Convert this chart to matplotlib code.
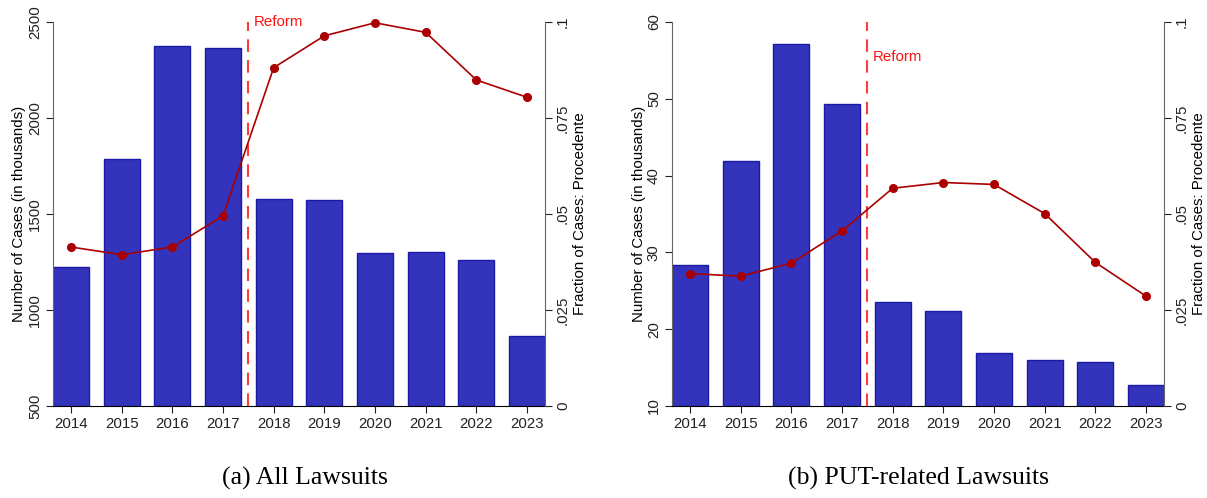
import matplotlib
matplotlib.use("Agg")
import matplotlib.pyplot as plt

years = [2014, 2015, 2016, 2017, 2018, 2019, 2020, 2021, 2022, 2023]

# Panel (a): all lawsuits
all_cases = [1222, 1786, 2375, 2365, 1577, 1573, 1298, 1302, 1262, 866]
all_frac = [0.0414, 0.0394, 0.0414, 0.0495, 0.0881, 0.0964, 0.0998, 0.0973, 0.0849, 0.0804]

# Panel (b): PUT-related lawsuits
put_cases = [28.36, 41.94, 57.1, 49.36, 23.54, 22.37, 16.93, 15.96, 15.70, 12.79]
put_frac = [0.0345, 0.0338, 0.0372, 0.0456, 0.0567, 0.0582, 0.0577, 0.0501, 0.0374, 0.0286]

left_ticks_a = [500, 1000, 1500, 2000, 2500]
left_ticks_b = [10, 20, 30, 40, 50, 60]
right_ticks = [0, 0.025, 0.05, 0.075, 0.1]
right_labels = ["0", ".025", ".05", ".075", ".1"]

reform_year = 2017.5
captions = ["(a) All Lawsuits", "(b) PUT-related Lawsuits"]

plt.rcParams["font.family"] = ["Liberation Sans", "DejaVu Sans"]

BAR_FACE = "#3333bb"
BAR_EDGE = "#1a1aa6"
LINE_COL = "#aa0000"
REFORM_COL = "#ff3a3a"
FS = 10.8

fig = plt.figure(figsize=(12.07, 4.98), dpi=100)


def panel(rect, cases, frac, lticks, reform_y, caption, cap_x):
    ax = fig.add_axes(rect)
    ax.bar(years, cases, width=0.71, color=BAR_FACE, edgecolor=BAR_EDGE,
           linewidth=1.0, zorder=2)
    ax.set_xlim(years[0] - 0.355, years[-1] + 0.355)
    ax.set_ylim(lticks[0], lticks[-1])
    ax.set_yticks(lticks)
    ax.set_yticklabels([str(t) for t in lticks], rotation=90, va="center",
                       fontsize=FS)
    ax.set_xticks(years)
    ax.set_xticklabels([str(y) for y in years], fontsize=FS)
    ax.set_ylabel("Number of Cases (in thousands)", fontsize=FS, labelpad=1)
    ax.tick_params(axis="both", direction="out", length=5, width=0.8,
                   colors="#222222", pad=3)
    ax.spines["top"].set_visible(False)
    ax.spines["right"].set_visible(False)
    ax.spines["left"].set_color("#666666")
    ax.spines["bottom"].set_color("#000000")

    ax.axvline(reform_year, color=REFORM_COL, linestyle=(0, (6, 4)),
               linewidth=1.5, zorder=3)
    ax.text(reform_year + 0.1, reform_y, "Reform", color="#ff1010",
            fontsize=FS, va="center", ha="left", zorder=4)

    ax2 = ax.twinx()
    ax2.plot(years, frac, color=LINE_COL, linewidth=1.2, marker="o",
             markersize=5.5, clip_on=False, zorder=5)
    ax2.set_ylim(0, 0.1)
    ax2.set_yticks(right_ticks)
    ax2.set_yticklabels(right_labels, rotation=90, va="center", fontsize=FS)
    ax2.set_ylabel("Fraction of Cases: Procedente", fontsize=FS, labelpad=2)
    ax2.tick_params(axis="y", direction="out", length=5, width=0.8,
                    colors="#222222", pad=3)
    for s in ("top", "left", "bottom"):
        ax2.spines[s].set_visible(False)
    ax2.spines["right"].set_color("#666666")
    ax2.set_zorder(ax.get_zorder() + 1)
    ax2.patch.set_visible(False)

    fig.text(cap_x, 0.04, caption, ha="center", va="center", fontsize=18.5,
             family=["Liberation Serif", "DejaVu Serif"])
    return ax


bottom = 92 / 498
height = 384 / 498
width = 492 / 1207
panel([53 / 1207, bottom, width, height], all_cases, all_frac,
      left_ticks_a, 2500, captions[0], 305 / 1207)
panel([672 / 1207, bottom, width, height], put_cases, put_frac,
      left_ticks_b, 55.4, captions[1], 918 / 1207)

fig.savefig("out.png", dpi=100)
